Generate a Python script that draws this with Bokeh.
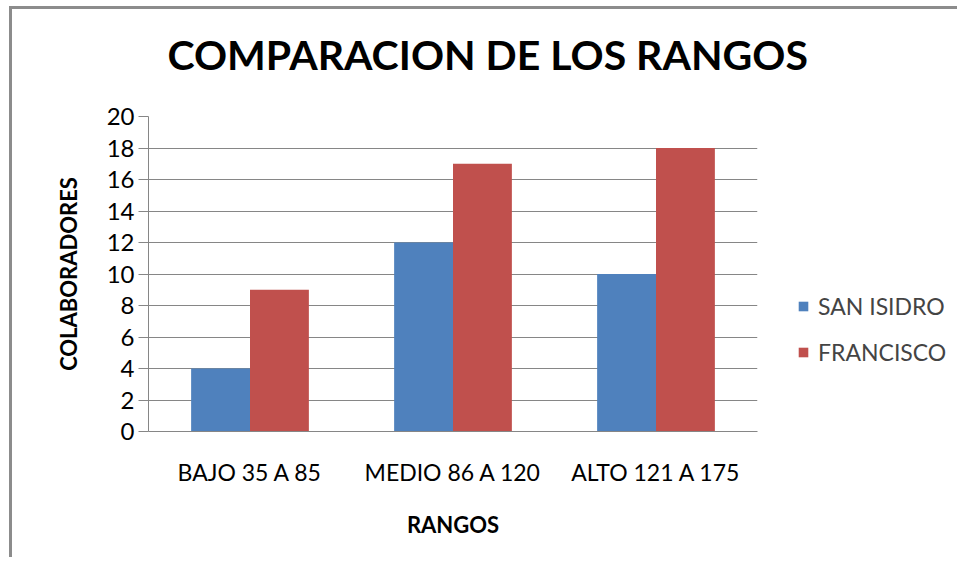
from bokeh.plotting import figure
from bokeh.layouts import row, column
from bokeh.models import ColumnDataSource, FactorRange, Range1d, Legend, LegendItem, FixedTicker
from bokeh.transform import dodge
from bokeh.embed import file_html
from bokeh.resources import INLINE

title_text = "COMPARACION DE LOS RANGOS"
categories = ["BAJO 35 A 85", "MEDIO 86 A 120", "ALTO 121 A 175"]
series_names = ["SAN ISIDRO", "FRANCISCO"]
san_isidro = [4, 12, 10]
francisco = [9, 17, 18]
y_ticks = [0, 2, 4, 6, 8, 10, 12, 14, 16, 18, 20]

FONT = "Lato"
GRID = "#868686"
BLUE = "#4F81BD"
RED = "#C0504D"

src = ColumnDataSource(dict(cat=categories, s1=san_isidro, s2=francisco))

# Title strip
t = figure(width=945, height=80, x_range=Range1d(0, 1), y_range=Range1d(0, 1),
           x_axis_type=None, y_axis_type=None,
           output_backend="svg", toolbar_location=None,
           min_border_left=136, min_border_right=5, min_border_top=75, min_border_bottom=0,
           outline_line_color=None)
t.xgrid.grid_line_color = None
t.ygrid.grid_line_color = None
t.title.text = title_text
t.title.text_font = FONT
t.title.text_font_style = "bold"
t.title.text_font_size = "41px"
t.title.text_color = "#000000"
t.title.align = "left"
t.title.offset = 19
t.title.standoff = 11

# Bar chart
p = figure(
    x_range=FactorRange(factors=categories),
    y_range=Range1d(0, 20),
    width=750, height=468,
    output_backend="svg", toolbar_location=None,
    min_border_left=136, min_border_right=5,
    min_border_top=27, min_border_bottom=126,
)

r1 = p.vbar(x=dodge("cat", -0.145, range=p.x_range), top="s1", width=0.29,
            source=src, fill_color=BLUE, line_color=None)
r2 = p.vbar(x=dodge("cat", 0.145, range=p.x_range), top="s2", width=0.29,
            source=src, fill_color=RED, line_color=None)

p.outline_line_color = None
p.xgrid.grid_line_color = None
p.ygrid.grid_line_color = GRID
p.ygrid.grid_line_width = 1

p.yaxis.ticker = FixedTicker(ticks=y_ticks)
p.yaxis.minor_tick_line_color = None
p.yaxis.major_tick_in = 0
p.yaxis.major_tick_out = 10
p.yaxis.major_tick_line_color = GRID
p.yaxis.axis_line_color = GRID
p.yaxis.major_label_text_font = FONT
p.yaxis.major_label_text_font_size = "24px"
p.yaxis.major_label_text_color = "#000000"
p.yaxis.major_label_standoff = 4
p.yaxis.axis_label = "COLABORADORES"
p.yaxis.axis_label_text_font = FONT
p.yaxis.axis_label_text_font_style = "bold"
p.yaxis.axis_label_text_font_size = "22px"
p.yaxis.axis_label_text_color = "#000000"
p.yaxis.axis_label_standoff = 22

p.xaxis.major_tick_line_color = None
p.xaxis.major_tick_out = 0
p.xaxis.major_tick_in = 0
p.xaxis.axis_line_color = GRID
p.xaxis.major_label_text_font = FONT
p.xaxis.major_label_text_font_size = "23px"
p.xaxis.major_label_text_color = "#000000"
p.xaxis.major_label_standoff = 26
p.xaxis.axis_label = "RANGOS"
p.xaxis.axis_label_text_font = FONT
p.xaxis.axis_label_text_font_style = "bold"
p.xaxis.axis_label_text_font_size = "22px"
p.xaxis.axis_label_text_color = "#000000"
p.xaxis.axis_label_standoff = 22

# Legend panel (separate figure so the legend sits outside the bar area)
q = figure(width=195, height=468, x_range=Range1d(0, 1), y_range=Range1d(0, 1),
           x_axis_type=None, y_axis_type=None,
           output_backend="svg", toolbar_location=None,
           min_border=0, outline_line_color=None)
q.xgrid.grid_line_color = None
q.ygrid.grid_line_color = None
l1 = q.vbar(x="s1", top="s1", width=0.29, source=src, fill_color=BLUE, line_color=None, visible=False)
l2 = q.vbar(x="s2", top="s2", width=0.29, source=src, fill_color=RED, line_color=None, visible=False)

legend = Legend(
    items=[LegendItem(label=series_names[0], renderers=[l1]),
           LegendItem(label=series_names[1], renderers=[l2])],
    location=(35, 65),
    border_line_color=None, background_fill_alpha=0,
    padding=0, margin=0, glyph_width=12, glyph_height=12,
    label_height=28, label_standoff=9, spacing=18,
    label_text_font=FONT, label_text_font_size="23px",
)
q.add_layout(legend, "center")

layout = column(t, row(p, q, spacing=0), spacing=0)
layout.styles = {"margin-left": "9px", "margin-top": "6px",
                 "border-left": "3px solid #8c8c8c", "border-top": "3px solid #8c8c8c"}

open("out.html", "w").write(file_html(layout, INLINE))
